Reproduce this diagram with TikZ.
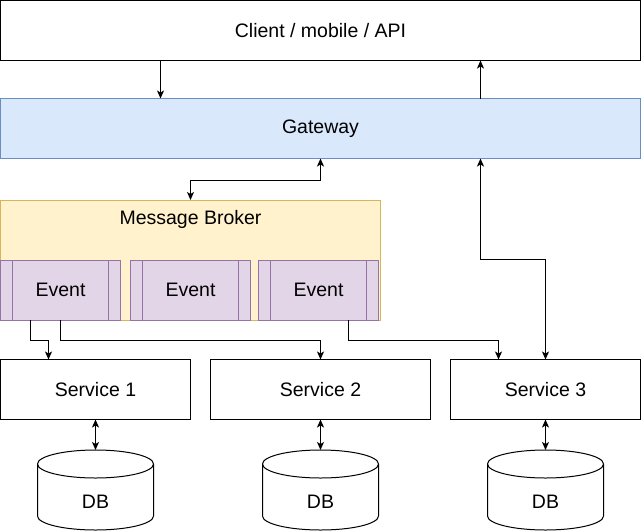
\documentclass[tikz,border=0pt]{standalone}
\usepackage{fontspec}
\setmainfont{Liberation Sans}
\usetikzlibrary{arrows.meta}

\definecolor{gwfill}{HTML}{DAE8FC}
\definecolor{gwline}{HTML}{6C8EBF}
\definecolor{mbfill}{HTML}{FFF2CC}
\definecolor{mbline}{HTML}{D6B656}
\definecolor{evfill}{HTML}{E1D5E7}
\definecolor{evline}{HTML}{9673A6}

% cylinder for a database, drawn round a named node
\newcommand{\dbcyl}[1]{%
  \draw[fill=white] ([yshift=-14pt]#1.north west) -- ([yshift=14pt]#1.south west)
    arc (180:360:58pt and 14pt) -- ([yshift=-14pt]#1.north east)
    arc (0:180:58pt and 14pt) -- cycle;
  \draw ([yshift=-14pt]#1.north west) arc (180:360:58pt and 14pt);
}

\tikzset{
  box/.style={draw, line width=1pt, inner sep=0pt, outer sep=0pt,
    minimum height=60pt},
  event/.style={box, fill=evfill, draw=evline, minimum width=120pt},
  arr/.style={line width=1pt, -{Stealth[length=8pt,width=7pt,inset=2pt]}},
  arrboth/.style={line width=1pt,
    {Stealth[length=8pt,width=7pt,inset=2pt]}-{Stealth[length=8pt,width=7pt,inset=2pt]}},
  every node/.style={font=\fontsize{19.5}{23}\selectfont}
}

\begin{document}
\begin{tikzpicture}[x=1pt, y=-1pt, line width=1pt]
\useasboundingbox (0,0) rectangle (641,531);

% top
\node[box, minimum width=640pt] (client) at (320.5,30.5) {Client / mobile / API};
\node[box, minimum width=640pt, fill=gwfill, draw=gwline] (gw) at (320.5,128.5) {Gateway};

% broker
\node[box, minimum width=380pt, minimum height=120pt, fill=mbfill, draw=mbline] (mb) at (190.5,260) {};
\node (mblabel) at (190.5,219.5) {Message Broker};

\node[event] (ev1) at (60.5,290) {Event};
\node[event] (ev2) at (190.5,290) {Event};
\node[event] (ev3) at (318.5,290) {Event};
\foreach \e in {ev1,ev2,ev3} {
  \draw[evline] ([xshift=12pt]\e.north west) -- ([xshift=12pt]\e.south west);
  \draw[evline] ([xshift=-12pt]\e.north east) -- ([xshift=-12pt]\e.south east);
}

% services
\node[box, minimum width=190pt] (s1) at (95.5,389.5) {Service 1};
\node[box, minimum width=220pt] (s2) at (320.5,389.5) {Service 2};
\node[box, minimum width=190pt] (s3) at (545.5,389.5) {Service 3};

% databases
\node[minimum width=116pt, minimum height=80pt, inner sep=0pt, outer sep=0pt] (db1) at (95.5,490) {};
\node[minimum width=116pt, minimum height=80pt, inner sep=0pt, outer sep=0pt] (db2) at (320.5,490) {};
\node[minimum width=116pt, minimum height=80pt, inner sep=0pt, outer sep=0pt] (db3) at (545.5,490) {};
\dbcyl{db1}
\dbcyl{db2}
\dbcyl{db3}
\node (dbt1) at (95.5,502) {DB};
\node (dbt2) at (320.5,502) {DB};
\node (dbt3) at (545.5,502) {DB};

% connectors
\draw[arr] ([xshift=-160pt]client.south) -- ([xshift=-160pt]gw.north);
\draw[arr] ([xshift=160pt]gw.north) -- ([xshift=160pt]client.south);
\draw[arrboth] (gw.south) -- ++(0,22) -| (mb.north);
\draw[arrboth] ([xshift=160pt]gw.south) -- ++(0,101) -| (s3.north);

\draw[arr] ([xshift=30pt]ev1.south west) -- ++(0,20) -| ([xshift=-47pt]s1.north);
\draw[arr] ([xshift=60pt]ev1.south west) -- ++(0,20) -| (s2.north);
\draw[arr] ([xshift=90pt]ev3.south west) -- ++(0,20) -| ([xshift=-47pt]s3.north);

\draw[arrboth] (s1.south) -- (db1.north);
\draw[arrboth] (s2.south) -- (db2.north);
\draw[arrboth] (s3.south) -- (db3.north);

\end{tikzpicture}
\end{document}
